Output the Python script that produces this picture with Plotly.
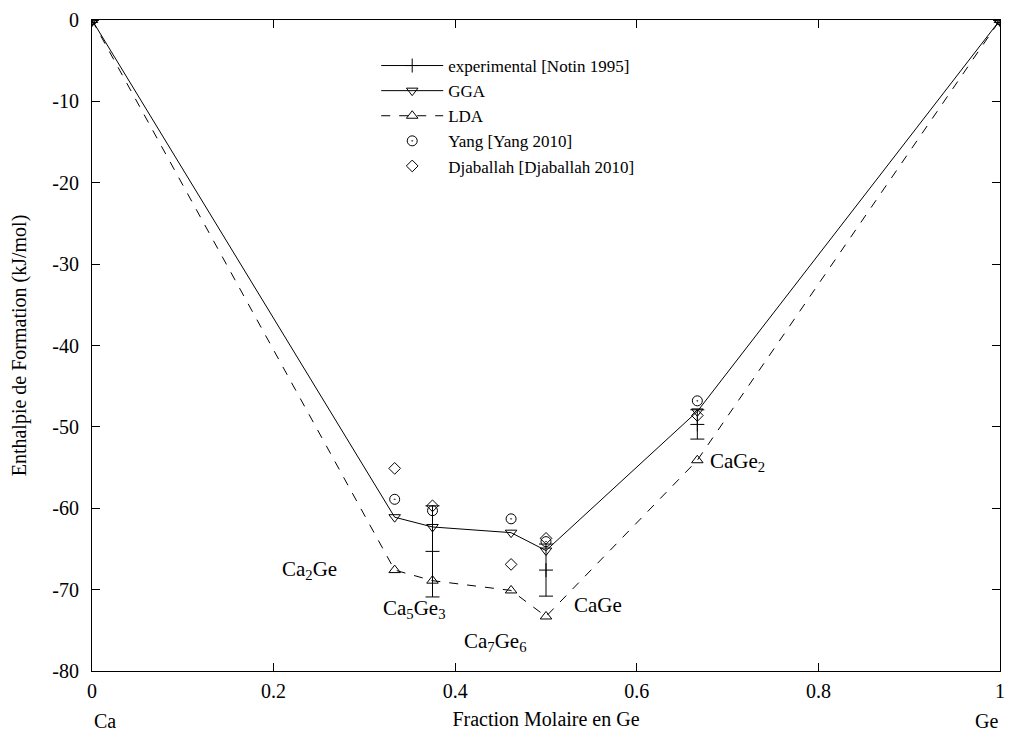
import plotly.graph_objects as go

# ---- data ----
x_all = [0.0, 1/3, 0.375, 6/13, 0.5, 2/3, 1.0]
gga = [0.0, -61.1, -62.3, -63.0, -65.2, -48.1, 0.0]
lda = [0.0, -67.6, -68.9, -70.1, -73.3, -54.1, 0.0]
yang = [0.0, -58.9, -60.3, -61.3, -64.1, -46.8, 0.0]
djab = [0.0, -55.1, -59.7, -66.9, -63.7, -48.6, 0.0]

x_exp = [0.0, 0.375, 0.5, 2/3, 1.0]
y_exp = [0.0, -65.3, -67.6, -49.7, 0.0]
err_exp = [0.0, 5.6, 3.2, 1.8, 0.0]

compound_labels = ["Ca<sub>2</sub>Ge", "Ca<sub>5</sub>Ge<sub>3</sub>", "Ca<sub>7</sub>Ge<sub>6</sub>",
                   "CaGe", "CaGe<sub>2</sub>"]
label_x = [0.207, 0.318, 0.408, 0.529, 0.678]
label_y = [-67.6, -72.4, -76.4, -71.9, -54.3]

x_ticks = [0, 0.2, 0.4, 0.6, 0.8, 1]
x_ticktext = ["0", "0.2", "0.4", "0.6", "0.8", "1"]
y_ticks = [0, -10, -20, -30, -40, -50, -60, -70, -80]
y_ticktext = ["0", "-10", "-20", "-30", "-40", "-50", "-60", "-70", "-80"]

FONT = "Liberation Serif"
FS = 20
fig = go.Figure()

# experimental (real, no legend)
fig.add_trace(go.Scatter(
    x=x_exp, y=y_exp, mode="markers", showlegend=False,
    marker=dict(symbol="cross-thin-open", size=10, color="black", line=dict(width=1, color="black")),
    error_y=dict(type="data", array=err_exp, color="black", thickness=1, width=7, visible=True),
))
# legend entry for experimental
fig.add_trace(go.Scatter(
    x=[None], y=[None], mode="lines+markers", name="experimental [Notin 1995]",
    line=dict(color="black", width=1),
    marker=dict(symbol="cross-thin-open", size=10, color="black", line=dict(width=1, color="black")),
))
fig.add_trace(go.Scatter(
    x=x_all, y=gga, mode="lines+markers", name="GGA",
    line=dict(color="black", width=1),
    marker=dict(symbol="triangle-down-open", size=10, color="black", line=dict(width=1, color="black")),
))
fig.add_trace(go.Scatter(
    x=x_all, y=lda, mode="lines+markers", name="LDA",
    line=dict(color="black", width=1, dash="dash"),
    marker=dict(symbol="triangle-up-open", size=10, color="black", line=dict(width=1, color="black")),
))
fig.add_trace(go.Scatter(
    x=x_all, y=yang, mode="markers", name="Yang [Yang 2010]",
    marker=dict(symbol="circle-open-dot", size=10, color="black", line=dict(width=1, color="black")),
))
fig.add_trace(go.Scatter(
    x=x_all, y=djab, mode="markers", name="Djaballah [Djaballah 2010]",
    marker=dict(symbol="diamond-open", size=9, color="black", line=dict(width=1, color="black")),
))

for t, lx, ly in zip(compound_labels, label_x, label_y):
    fig.add_annotation(x=lx, y=ly, text=t, showarrow=False, xanchor="left", yanchor="middle",
                       font=dict(family=FONT, size=21, color="black"))

fig.add_annotation(x=0, y=-0.077, xref="paper", yref="paper", text="Ca", showarrow=False,
                   xanchor="left", yanchor="middle", font=dict(family=FONT, size=FS, color="black"))
fig.add_annotation(x=1.0, y=-0.077, xref="paper", yref="paper", text="Ge", showarrow=False,
                   xanchor="right", yanchor="middle", font=dict(family=FONT, size=FS, color="black"))

axis_common = dict(showline=True, linecolor="black", linewidth=1.2, mirror="ticks",
                   ticks="inside", ticklen=8, tickcolor="black", tickwidth=1,
                   showgrid=False, zeroline=False,
                   tickfont=dict(family=FONT, size=FS, color="black"))

fig.update_xaxes(range=[0, 1], tickvals=x_ticks, ticktext=x_ticktext, ticklabelstandoff=2,
                 title=dict(text="Fraction Molaire en Ge", font=dict(family=FONT, size=FS, color="black"), standoff=10),
                 **axis_common)
fig.update_yaxes(range=[-80, 0], tickvals=y_ticks, ticktext=y_ticktext, ticklabelstandoff=8,
                 title=dict(text="Enthalpie de Formation (kJ/mol)", font=dict(family=FONT, size=FS, color="black"), standoff=20),
                 **axis_common)

fig.update_layout(
    width=1012, height=735,
    margin=dict(l=92, r=7, t=20, b=64),
    paper_bgcolor="white", plot_bgcolor="white",
    font=dict(family=FONT, size=FS, color="black"),
    legend=dict(x=0.313, y=0.957, xanchor="left", yanchor="top", bgcolor="rgba(0,0,0,0)",
                font=dict(family=FONT, size=17, color="black"), itemwidth=62,
                tracegroupgap=0),
)

fig.write_html("out.html")
